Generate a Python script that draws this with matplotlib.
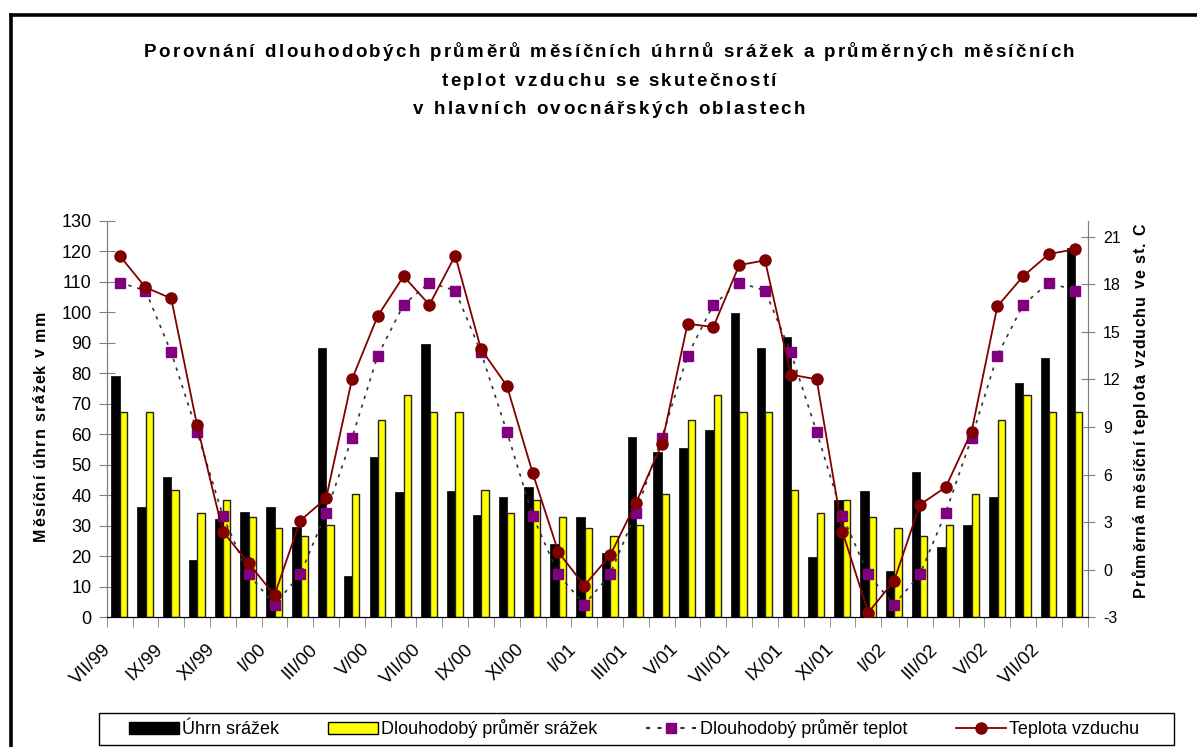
# -*- coding: utf-8 -*-
# srazky a teploty VII/99 - VIII/02
import numpy as np
import matplotlib
matplotlib.use('Agg')
import matplotlib.pyplot as plt
import matplotlib.transforms as mtrans
from matplotlib.lines import Line2D
from matplotlib.patches import Rectangle, Patch
from matplotlib.font_manager import FontProperties, findfont
from matplotlib.ft2font import FT2Font

plt.rcParams['font.family'] = ['Liberation Sans', 'DejaVu Sans']
plt.rcParams['axes.unicode_minus'] = False

# mesice
mesice = ['VII/99', 'VIII/99', 'IX/99', 'X/99', 'XI/99', 'XII/99',
          'I/00', 'II/00', 'III/00', 'IV/00', 'V/00', 'VI/00',
          'VII/00', 'VIII/00', 'IX/00', 'X/00', 'XI/00', 'XII/00',
          'I/01', 'II/01', 'III/01', 'IV/01', 'V/01', 'VI/01',
          'VII/01', 'VIII/01', 'IX/01', 'X/01', 'XI/01', 'XII/01',
          'I/02', 'II/02', 'III/02', 'IV/02', 'V/02', 'VI/02',
          'VII/02', 'VIII/02']

# uhrn srazek (mm)
uhrn = [79, 36.3, 45.9, 18.8, 32.1, 34.6,
        36.3, 29.7, 88.3, 13.5, 52.6, 41.1,
        89.5, 41.5, 33.4, 39.5, 42.7, 24.0,
        32.9, 21.2, 59.0, 54.1, 55.4, 61.4,
        99.7, 88.3, 91.9, 19.7, 38.6, 41.4,
        15.1, 47.5, 23.1, 30.2, 39.5, 76.9,
        85.0, 121.2]

# dlouhodoby prumer srazek (mm)
prumer_srazek = [67.4, 67.4, 41.8, 34.1, 38.6, 32.9,
                 29.2, 26.8, 30.2, 40.5, 64.7, 72.8,
                 67.4, 67.4, 41.8, 34.1, 38.6, 32.9,
                 29.2, 26.8, 30.2, 40.5, 64.7, 72.8,
                 67.4, 67.4, 41.8, 34.1, 38.6, 32.9,
                 29.2, 26.8, 30.2, 40.5, 64.7, 72.8,
                 67.4, 67.4]

# dlouhodoby prumer teplot (st. C)
prumer_teplot = [18.1, 17.6, 13.7, 8.7, 3.4, -0.3,
                 -2.2, -0.3, 3.6, 8.3, 13.5, 16.7,
                 18.1, 17.6, 13.7, 8.7, 3.4, -0.3,
                 -2.2, -0.3, 3.6, 8.3, 13.5, 16.7,
                 18.1, 17.6, 13.7, 8.7, 3.4, -0.3,
                 -2.2, -0.3, 3.6, 8.3, 13.5, 16.7,
                 18.1, 17.6]

# teplota vzduchu (st. C)
teplota = [19.8, 17.8, 17.1, 9.1, 2.4, 0.4,
           -1.6, 3.1, 4.5, 12.0, 16.0, 18.5,
           16.7, 19.8, 13.9, 11.6, 6.1, 1.1,
           -1.0, 0.9, 4.2, 7.9, 15.5, 15.3,
           19.2, 19.5, 12.3, 12.0, 2.4, -2.7,
           -0.7, 4.1, 5.2, 8.7, 16.6, 18.5,
           19.9, 20.2]

titulek = [u'Porovnání dlouhodobých průměrů měsíčních úhrnů srážek a průměrných měsíčních',
           u'teplot vzduchu se skutečností',
           u'v hlavních ovocnářských oblastech']

W, H = 1197, 747
fig = plt.figure(figsize=(W / 100, H / 100), dpi=100)
renderer = fig.canvas.get_renderer()


def prostrkany(s, x0, y0, size, mezera, svisle=False):
    # text s roztazenymi pismeny (jako v Excelu), souradnice v pixelech shora
    fp = FontProperties(family='Liberation Sans', weight='bold', size=size)
    font = FT2Font(findfont(fp))
    font.set_size(size, 100)
    adv = [font.load_char(ord(c)).linearHoriAdvance / 65536.0 for c in s]
    t = fig.text(0, 0, s, fontproperties=fp)
    sirka = t.get_window_extent(renderer).width
    t.remove()
    adv = [a * sirka / sum(adv) for a in adv]
    pos = -(sum(adv) + mezera * (len(s) - 1)) / 2
    for c, a in zip(s, adv):
        if svisle:
            fig.text(x0 / W, 1 - (y0 - pos) / H, c, fontproperties=fp, rotation=90,
                     rotation_mode='anchor', ha='left', va='baseline')
        else:
            fig.text((x0 + pos) / W, 1 - y0 / H, c, fontproperties=fp,
                     ha='left', va='baseline')
        pos += a + mezera


ax1 = fig.add_axes([106.7 / W, 1 - 617.3 / H, (1087.7 - 106.7) / W, (617.3 - 220.7) / H])
ax2 = ax1.twinx()

x = np.arange(len(mesice))
ax1.bar(x - 0.32, uhrn, 0.33, align='edge', color='black', edgecolor='black', linewidth=0.5, zorder=2)
ax1.bar(x + 0.01, prumer_srazek, 0.28, align='edge', color='#FFFF00', edgecolor='#222222', linewidth=1.0, zorder=2)

ax1.set_xlim(-0.5, len(mesice) - 0.5)
ax1.set_ylim(0, 130)
ax1.set_yticks(np.arange(0, 131, 10))
ax2.set_ylim(-3, 22)
ax2.set_yticks(np.arange(-3, 22, 3))

ax2.plot(x, prumer_teplot, linestyle=(0, (2, 3.5)), color='#333333', linewidth=1.2,
         marker='s', markersize=7.5, markerfacecolor='#800080', markeredgecolor='#800080', zorder=3)
ax2.plot(x, teplota, '-', color='#800000', linewidth=1.3,
         marker='o', markersize=8, markerfacecolor='#800000', markeredgecolor='#800000', zorder=4)
ax2.set_zorder(ax1.get_zorder() + 1)
ax2.patch.set_visible(False)

# osy
for a in (ax1, ax2):
    a.spines['top'].set_visible(False)
    a.spines['left'].set_color('#808080')
    a.spines['right'].set_color('#808080')
    a.spines['bottom'].set_color('black')
ax1.tick_params(axis='y', direction='inout', length=12, color='#808080', labelsize=13, pad=5)
ax2.tick_params(axis='y', direction='inout', length=10, color='#808080', labelsize=11.5, pad=6)
ax1.set_xticks([])
ax1.set_xticks(np.arange(-0.5, len(mesice), 1), minor=True)
ax1.tick_params(axis='x', which='minor', direction='out', length=7, color='#808080')

# popisky osy x
posun = mtrans.ScaledTranslation(0, -0.235, fig.dpi_scale_trans)
tr = mtrans.blended_transform_factory(ax1.transData, ax1.transAxes) + posun
for i in range(0, len(mesice), 2):
    ax1.text(i - 0.66, 0, mesice[i], transform=tr, rotation=45, rotation_mode='anchor',
             ha='right', va='top', fontsize=13.5)

# titulek a popisky os
for radek, yb in zip(titulek, [57, 86, 114]):
    prostrkany(radek, 609, yb, 13.5, 2.4)
prostrkany(u'Měsíční úhrn srážek v mm', 45, 426, 11.5, 1.3, svisle=True)
prostrkany(u'Průměrná měsíční teplota vzduchu ve st. C', 1145, 410, 11.5, 1.15, svisle=True)

# legenda
fig.patches.append(Rectangle((99 / W, 1 - 745 / H), 1075 / W, 32 / H, transform=fig.transFigure,
                             facecolor='white', edgecolor='black', linewidth=1.0))
handles = [Patch(facecolor='black', edgecolor='black'),
           Patch(facecolor='#FFFF00', edgecolor='black'),
           Line2D([], [], linestyle=(0, (2, 3.5)), color='#333333', marker='s', markersize=7.5,
                  markerfacecolor='#800080', markeredgecolor='#800080'),
           Line2D([], [], color='#800000', linewidth=1.3, marker='o', markersize=8,
                  markerfacecolor='#800000', markeredgecolor='#800000')]
labels = [u'Úhrn srážek', u'Dlouhodobý průměr srážek', u'Dlouhodobý průměr teplot', u'Teplota vzduchu']
fig.legend(handles, labels, loc='center', bbox_to_anchor=(634 / W, 1 - 729 / H), ncol=4,
           frameon=False, fontsize=13, handlelength=2.77, handleheight=0.62, handletextpad=0.18,
           columnspacing=2.7)

# ramecek
fig.add_artist(Line2D([10.5 / W, 10.5 / W], [0, 1 - 15 / H], transform=fig.transFigure,
                      color='black', linewidth=2.6, solid_capstyle='projecting'))
fig.add_artist(Line2D([10.5 / W, 1], [1 - 15 / H, 1 - 15 / H], transform=fig.transFigure,
                      color='black', linewidth=2.6, solid_capstyle='projecting'))

fig.savefig('out.png', dpi=100)
